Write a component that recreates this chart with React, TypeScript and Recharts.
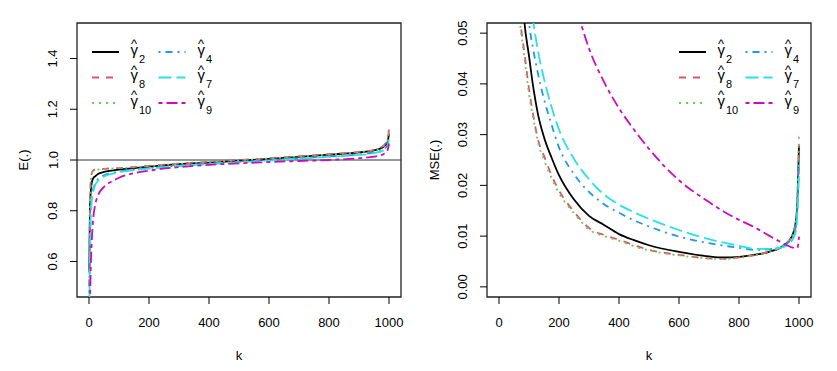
import {
  LineChart,
  Line,
  XAxis,
  YAxis,
  ReferenceLine,
  ReferenceArea,
  Legend,
} from 'recharts'

const FONT = '"Liberation Sans", Arial, Helvetica, sans-serif'

// k grid for the E(.) panel
const kE = [1, 3, 6, 10, 15, 20, 30, 50, 75, 100, 150, 200, 300, 400, 500, 600, 700, 800, 900, 950, 980, 995, 1000]
const g2E = [0.56, 0.8, 0.88, 0.915, 0.93, 0.935, 0.945, 0.953, 0.958, 0.962, 0.968, 0.974, 0.984, 0.99, 0.997, 1.004, 1.012, 1.021, 1.03, 1.038, 1.05, 1.07, 1.105]
const g8E = [0.5, 0.8, 0.92, 0.95, 0.96, 0.962, 0.963, 0.965, 0.967, 0.968, 0.972, 0.977, 0.986, 0.993, 1.0, 1.007, 1.015, 1.023, 1.032, 1.04, 1.055, 1.08, 1.12]
const g10E = [0.48, 0.78, 0.92, 0.95, 0.958, 0.96, 0.962, 0.964, 0.966, 0.968, 0.971, 0.976, 0.985, 0.992, 0.999, 1.006, 1.014, 1.022, 1.031, 1.039, 1.052, 1.075, 1.11]
const g4E = [0.4, 0.65, 0.8, 0.86, 0.89, 0.905, 0.925, 0.94, 0.948, 0.955, 0.962, 0.968, 0.978, 0.986, 0.993, 1.0, 1.007, 1.014, 1.022, 1.03, 1.04, 1.06, 1.09]
const g7E = [0.38, 0.62, 0.78, 0.85, 0.88, 0.9, 0.918, 0.935, 0.945, 0.952, 0.96, 0.966, 0.976, 0.984, 0.991, 0.998, 1.005, 1.012, 1.02, 1.027, 1.037, 1.055, 1.08]
const g9E = [0.2, 0.4, 0.58, 0.7, 0.78, 0.82, 0.86, 0.894, 0.915, 0.93, 0.948, 0.958, 0.972, 0.981, 0.987, 0.992, 0.996, 1.0, 1.007, 1.013, 1.022, 1.038, 1.065]

// k grid for the MSE(.) panel
const kM = [50, 70, 85, 100, 115, 130, 150, 175, 200, 250, 300, 350, 400, 450, 500, 600, 700, 750, 800, 850, 900, 950, 975, 990, 995, 1000]
const g2M = [0.085, 0.065, 0.052, 0.0455, 0.039, 0.034, 0.0295, 0.0255, 0.022, 0.0172, 0.014, 0.0122, 0.0104, 0.0092, 0.0082, 0.0069, 0.006, 0.0058, 0.0059, 0.0063, 0.0069, 0.0082, 0.0098, 0.013, 0.017, 0.028]
const g8M = [0.07, 0.053, 0.046, 0.039, 0.0335, 0.029, 0.0258, 0.022, 0.019, 0.0148, 0.0116, 0.0102, 0.0093, 0.0082, 0.0073, 0.0063, 0.0056, 0.0055, 0.0058, 0.0062, 0.0069, 0.0082, 0.0098, 0.013, 0.018, 0.028]
const g10M = [0.068, 0.052, 0.045, 0.038, 0.033, 0.0285, 0.025, 0.0215, 0.0185, 0.0145, 0.0113, 0.01, 0.0091, 0.008, 0.0072, 0.0062, 0.0056, 0.0055, 0.0057, 0.0062, 0.0069, 0.0083, 0.01, 0.0135, 0.019, 0.03]
const g4M = [0.1, 0.075, 0.062, 0.052, 0.0465, 0.042, 0.037, 0.032, 0.0275, 0.0222, 0.0187, 0.0163, 0.0146, 0.0131, 0.0119, 0.0099, 0.0086, 0.0081, 0.0077, 0.0073, 0.0074, 0.0082, 0.0095, 0.012, 0.016, 0.025]
const g7M = [0.11, 0.085, 0.07, 0.06, 0.052, 0.0465, 0.041, 0.0355, 0.031, 0.0252, 0.0212, 0.0182, 0.0162, 0.0147, 0.0134, 0.0112, 0.0094, 0.0087, 0.0081, 0.0075, 0.0075, 0.0079, 0.009, 0.011, 0.015, 0.022]
const g9M = [0.2, 0.16, 0.14, 0.125, 0.11, 0.1, 0.09, 0.08, 0.071, 0.057, 0.047, 0.0404, 0.0352, 0.031, 0.0272, 0.021, 0.0167, 0.0148, 0.0132, 0.0118, 0.0101, 0.0085, 0.0078, 0.0076, 0.0077, 0.0099]

const xTicks = [0, 200, 400, 600, 800, 1000]
const eTicks = [0.6, 0.8, 1.0, 1.2, 1.4]
const mseTicks = [0, 0.01, 0.02, 0.03, 0.04, 0.05]

interface SeriesDef {
  key: string
  sub: string
  color: string
  dash?: string
}

const SERIES: SeriesDef[] = [
  { key: 'g2', sub: '2', color: '#000000' },
  { key: 'g8', sub: '8', color: '#DF536B', dash: '7 7' },
  { key: 'g10', sub: '10', color: '#61D04F', dash: '2 5' },
  { key: 'g4', sub: '4', color: '#2297E6', dash: '2 5 7 5' },
  { key: 'g7', sub: '7', color: '#28E2E5', dash: '13 5' },
  { key: 'g9', sub: '9', color: '#CD0BBC', dash: '4 4 11 4' },
]

// legend is two columns, filled column-wise like R's ncol=2
const LEGEND_COLS = [['g2', 'g8', 'g10'], ['g4', 'g7', 'g9']]

const eData = kE.map((k, i) => ({ k, g2: g2E[i], g8: g8E[i], g10: g10E[i], g4: g4E[i], g7: g7E[i], g9: g9E[i] }))
const mData = kM.map((k, i) => ({ k, g2: g2M[i], g8: g8M[i], g10: g10M[i], g4: g4M[i], g7: g7M[i], g9: g9M[i] }))

const XTick = (props: any) => {
  const { x, y, payload } = props
  return (
    <text x={x} y={y + 21} textAnchor="middle" fontSize={13} fontFamily={FONT} fill="#000">
      {payload.value}
    </text>
  )
}

const makeYTick = (digits: number) => (props: any) => {
  const { x, y, payload } = props
  const bx = x - 10.5
  return (
    <text
      x={bx}
      y={y}
      textAnchor="middle"
      transform={`rotate(-90 ${bx} ${y})`}
      fontSize={13}
      fontFamily={FONT}
      fill="#000"
    >
      {Number(payload.value).toFixed(digits)}
    </text>
  )
}

function GammaLegend() {
  const rowY = [12, 37.5, 63]
  return (
    <svg width={150} height={90} style={{ overflow: 'visible' }}>
      {LEGEND_COLS.map((col, ci) =>
        col.map((key, ri) => {
          const s = SERIES.find((d) => d.key === key)!
          const lx = ci === 0 ? 0 : 66.5
          const gx = ci === 0 ? 38.5 : 105.5
          const y = rowY[ri]
          return (
            <g key={key}>
              <line x1={lx} x2={lx + 27} y1={y} y2={y} stroke={s.color} strokeWidth={2} strokeDasharray={s.dash} />
              <text x={gx + 0.5} y={y - 4} fontSize={13} fontFamily={FONT} fill="#000">^</text>
              <text x={gx} y={y + 2.5} fontSize={15} fontFamily={FONT} fill="#000">γ</text>
              <text x={gx + 8.5} y={y + 10.5} fontSize={11} fontFamily={FONT} fill="#000">{s.sub}</text>
            </g>
          )
        })
      )}
    </svg>
  )
}

const AX_H = 30
const AX_W = 30

function Panel(props: {
  width: number
  data: any[]
  margin: { top: number; right: number; bottom: number; left: number }
  yDomain: [number, number]
  yTicks: number[]
  digits: number
  yLabel: string
  yLabelX: number
  legendLeft: number
  hline?: number
}) {
  const { width, data, margin, yDomain, yTicks, digits, yLabel, yLabelX, legendLeft, hline } = props
  const boxCenter = margin.left + (width - margin.left - margin.right) / 2
  // the axes take their own room out of the margins
  const chartMargin = { ...margin, left: margin.left - AX_W, bottom: margin.bottom - AX_H }
  return (
    <div style={{ position: 'relative', width, height: 371 }}>
      <LineChart width={width} height={371} data={data} margin={chartMargin}>
        <XAxis
          dataKey="k"
          type="number"
          domain={[-40, 1040]}
          ticks={xTicks}
          allowDataOverflow
          height={AX_H}
          axisLine={false}
          tickSize={7}
          tickLine={{ stroke: '#000' }}
          tick={XTick}
          interval={0}
        />
        <YAxis
          type="number"
          domain={yDomain}
          ticks={yTicks}
          allowDataOverflow
          width={AX_W}
          axisLine={false}
          tickSize={7}
          tickLine={{ stroke: '#000' }}
          tick={makeYTick(digits)}
          interval={0}
        />
        {hline !== undefined && <ReferenceLine y={hline} stroke="#333" strokeWidth={1} />}
        {SERIES.map((s) => (
          <Line
            key={s.key}
            dataKey={s.key}
            type="monotone"
            stroke={s.color}
            strokeWidth={1.8}
            strokeDasharray={s.dash}
            dot={false}
            activeDot={false}
            isAnimationActive={false}
          />
        ))}
        <ReferenceArea
          x1={-40}
          x2={1040}
          y1={yDomain[0]}
          y2={yDomain[1]}
          fill="none"
          fillOpacity={0}
          stroke="#222"
          strokeWidth={1.3}
          ifOverflow="visible"
        />
        <Legend
          layout="horizontal"
          verticalAlign="middle"
          align="center"
          wrapperStyle={{ left: legendLeft, top: 40, width: 150, height: 90 }}
          content={() => <GammaLegend />}
        />
      </LineChart>
      <svg width={width} height={371} style={{ position: 'absolute', left: 0, top: 0, pointerEvents: 'none' }}>
        <text
          x={yLabelX}
          y={160}
          textAnchor="middle"
          transform={`rotate(-90 ${yLabelX} 160)`}
          fontSize={13}
          fontFamily={FONT}
          fill="#000"
        >
          {yLabel}
        </text>
        <text x={boxCenter} y={360} textAnchor="middle" fontSize={13} fontFamily={FONT} fill="#000">
          k
        </text>
      </svg>
    </div>
  )
}

export default function App() {
  return (
    <div style={{ position: 'absolute', left: 0, top: 0, width: 837, height: 371, background: '#fff', display: 'flex' }}>
      <Panel
        width={420}
        data={eData}
        margin={{ top: 23, right: 19, bottom: 74, left: 77 }}
        yDomain={[0.46, 1.54]}
        yTicks={eTicks}
        digits={1}
        yLabel="E(.)"
        yLabelX={28}
        legendLeft={92}
        hline={1}
      />
      <Panel
        width={417}
        data={mData}
        margin={{ top: 23, right: 26, bottom: 74, left: 67 }}
        yDomain={[-0.002, 0.052]}
        yTicks={mseTicks}
        digits={2}
        yLabel="MSE(.)"
        yLabelX={19}
        legendLeft={259}
      />
    </div>
  )
}
